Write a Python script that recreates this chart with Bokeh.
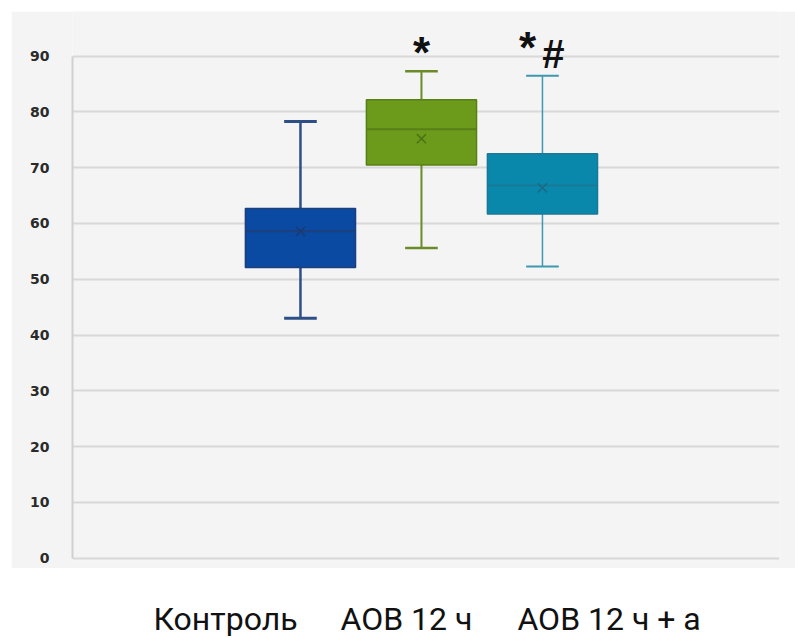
from bokeh.plotting import figure
from bokeh.layouts import column
from bokeh.models import Range1d, FixedTicker
from bokeh.core.properties import value
from bokeh.embed import file_html
from bokeh.resources import INLINE

# ---- data ----
groups = ["Контроль", "АОВ 12 ч", "АОВ 12 ч + а"]
positions = [1.0, 2.0, 3.0]
whisker_low = [43.0, 55.6, 52.3]
q1 = [52.1, 70.5, 61.7]
median = [58.6, 76.9, 66.8]
q3 = [62.7, 82.2, 72.5]
whisker_high = [78.3, 87.3, 86.5]
mean = [58.6, 75.2, 66.4]
y_ticks = [0, 10, 20, 30, 40, 50, 60, 70, 80, 90]

# ---- styles ----
fill_colors = ["#0a4aa3", "#6c9b1c", "#0a88ab"]
line_colors = ["#1d3f7a", "#587f17", "#1a7896"]
whisker_colors = ["#2e4f86", "#6b8b2a", "#3d98b0"]
whisker_widths = [2.5, 2.0, 1.5]
mean_colors = ["#1a3a70", "#4a7412", "#1a6a86"]
panel_bg = "#f4f4f4"

box_w = 0.91
cap_w = 0.27
x_range = Range1d(-0.884, 4.959)

p = figure(width=784, height=557, output_backend="svg", toolbar_location=None,
           x_range=x_range, y_range=Range1d(-0.59, 98.0),
           min_border_left=61, min_border_right=16, min_border_top=0, min_border_bottom=7)
p.margin = (11, 0, 0, 11)
p.background_fill_color = panel_bg
p.border_fill_color = panel_bg
p.outline_line_color = None
p.xaxis.visible = False
p.xgrid.visible = False
p.ygrid.ticker = FixedTicker(ticks=y_ticks)
p.ygrid.grid_line_color = "#d8d8d8"
p.ygrid.grid_line_width = 2
p.yaxis.ticker = FixedTicker(ticks=y_ticks)
p.yaxis.bounds = (0, 90)
p.yaxis.axis_line_color = "#d0d0d0"
p.yaxis.axis_line_width = 2
p.yaxis.major_tick_line_color = None
p.yaxis.minor_tick_line_color = None
p.yaxis.major_label_standoff = 17
p.yaxis.major_label_text_font = "DejaVu Sans"
p.yaxis.major_label_text_font_style = "bold"
p.yaxis.major_label_text_font_size = "14px"
p.yaxis.major_label_text_color = "#2a2a2a"

for i in range(3):
    x = positions[i]
    # whiskers
    p.segment(x0=[x, x], y0=[whisker_low[i], q3[i]], x1=[x, x], y1=[q1[i], whisker_high[i]],
              line_color=whisker_colors[i], line_width=whisker_widths[i])
    p.segment(x0=[x - cap_w / 2, x - cap_w / 2], y0=[whisker_low[i], whisker_high[i]],
              x1=[x + cap_w / 2, x + cap_w / 2], y1=[whisker_low[i], whisker_high[i]],
              line_color=whisker_colors[i], line_width=whisker_widths[i] + 0.5)
    # box
    p.quad(left=[x - box_w / 2], right=[x + box_w / 2], bottom=[q1[i]], top=[q3[i]],
           fill_color=fill_colors[i], line_color=line_colors[i], line_width=1.5)
    # median
    p.segment(x0=[x - box_w / 2], y0=[median[i]], x1=[x + box_w / 2], y1=[median[i]],
              line_color=line_colors[i], line_width=2)
    # mean
    p.scatter(x=[x], y=[mean[i]], marker="x", size=13, line_color=mean_colors[i], line_width=1.5)

# significance marks
sig_font = value("Liberation Sans")
p.text(x=[positions[1]], y=[whisker_high[1] + 3.4], text=["*"], text_font=sig_font,
       text_font_style="bold", text_font_size="44px", text_align="center",
       text_baseline="alphabetic", text_color="#111111")
p.text(x=[positions[2] - 0.124], y=[whisker_high[2] + 5.0], text=["*"], text_font=sig_font,
       text_font_style="bold", text_font_size="44px", text_align="center",
       text_baseline="alphabetic", text_color="#111111")
p.text(x=[positions[2] + 0.09], y=[whisker_high[2] + 3.9], text=["#"], text_font=sig_font,
       text_font_style="bold", text_font_size="40px", text_align="center",
       text_baseline="alphabetic", text_color="#111111")

# ---- bottom label strip (white) ----
label_x = [-0.215, 1.331, 2.793]
label_y = [20, 20, 20]
b = figure(width=784, height=70, output_backend="svg", toolbar_location=None,
           x_range=x_range, y_range=Range1d(0, 70),
           min_border_left=61, min_border_right=16, min_border_top=0, min_border_bottom=0)
b.margin = (0, 0, 0, 11)
b.axis.visible = False
b.grid.visible = False
b.outline_line_color = None
b.background_fill_color = "white"
b.border_fill_color = "white"
b.text(x=label_x, y=label_y, text=groups, text_font=value("Roboto"), text_font_size="32px",
       text_align="left", text_baseline="alphabetic", text_color="#111111")

layout = column(p, b, spacing=0)
open("out.html", "w").write(file_html(layout, INLINE))
